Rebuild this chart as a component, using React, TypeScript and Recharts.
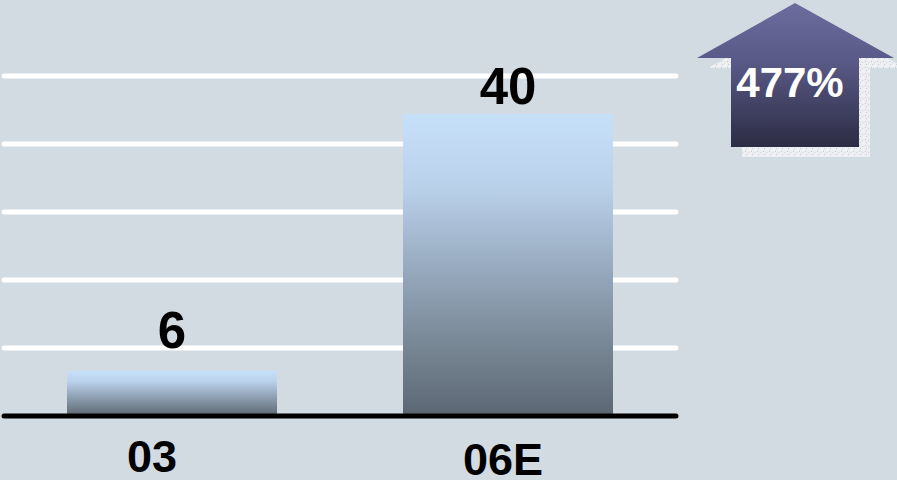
import React from 'react';
import { BarChart, Bar, XAxis, YAxis, CartesianGrid, LabelList } from 'recharts';

// Growth figures
const years = ['03', '06E'];
const values = [6, 40];
const growthLabel = '477%';
const yTicks = [9, 18, 27, 36, 45];

const data = years.map((year, i) => ({ year, value: values[i] }));

const FONT = '"Liberation Sans", Arial, sans-serif';
const BG = '#d3dbe2';

// the source slide nudges each text box a little differently
const valueLabelGap = [23, 10];
const tickShiftX = [-20, -5];
const tickBaseline = [56, 59];

const ValueLabel = (props: any) => {
  const { x, y, width, value, index } = props;
  return (
    <text
      x={x + width / 2}
      y={y - valueLabelGap[index]}
      textAnchor="middle"
      fontFamily={FONT}
      fontWeight="bold"
      fontSize={51}
      fill="#000"
    >
      {value}
    </text>
  );
};

const YearTick = (props: any) => {
  const { x, y, payload, index } = props;
  return (
    <text
      x={x + tickShiftX[index]}
      y={y + tickBaseline[index]}
      textAnchor="middle"
      fontFamily={FONT}
      fontWeight="bold"
      fontSize={45}
      fill="#000"
    >
      {payload.value}
    </text>
  );
};

export default function App() {
  return (
    <div
      style={{
        position: 'absolute',
        left: 0,
        top: 0,
        width: 897,
        height: 480,
        background: BG,
        overflow: 'hidden',
      }}
    >
      <svg width={0} height={0} style={{ position: 'absolute' }}>
        <defs>
          <linearGradient id="barFill" x1="0" y1="0" x2="0" y2="1">
            <stop offset="0%" stopColor="#c7e0f9" />
            <stop offset="25%" stopColor="#b9d0e9" />
            <stop offset="55%" stopColor="#92a4b8" />
            <stop offset="80%" stopColor="#74828f" />
            <stop offset="100%" stopColor="#5b6673" />
          </linearGradient>
          <linearGradient id="arrowFill" x1="0" y1="0" x2="0" y2="1">
            <stop offset="0%" stopColor="#6c6c9e" />
            <stop offset="40%" stopColor="#5a5a88" />
            <stop offset="100%" stopColor="#2c2c44" />
          </linearGradient>
          <pattern id="speckle" width="6" height="6" patternUnits="userSpaceOnUse">
            <rect width="6" height="6" fill="#eceef2" />
            <rect x="1" y="1" width="1" height="1" fill="#c4c9d0" />
            <rect x="4" y="2" width="1" height="1" fill="#d0d4da" />
            <rect x="2" y="4" width="1" height="1" fill="#c8ccd3" />
            <rect x="5" y="5" width="1" height="1" fill="#f8f9fa" />
          </pattern>
        </defs>
      </svg>

      <BarChart
        width={897}
        height={480}
        data={data}
        margin={{ top: 76, right: 221, bottom: 0, left: 4 }}
      >
        <CartesianGrid
          horizontal
          vertical={false}
          stroke="#ffffff"
          strokeWidth={5}
          strokeLinecap="round"
          horizontalValues={yTicks}
        />
        <YAxis hide type="number" domain={[0, 45]} ticks={yTicks} />
        <XAxis
          dataKey="year"
          height={64}
          tickLine={false}
          tickSize={0}
          tickMargin={0}
          axisLine={{ stroke: '#000', strokeWidth: 5, strokeLinecap: 'round' }}
          tick={<YearTick />}
          interval={0}
        />
        <Bar dataKey="value" barSize={210} fill="url(#barFill)" isAnimationActive={false}>
          <LabelList dataKey="value" content={<ValueLabel />} />
        </Bar>
      </BarChart>

      {/* growth arrow */}
      <svg
        width={897}
        height={480}
        style={{ position: 'absolute', left: 0, top: 0, pointerEvents: 'none' }}
      >
        <polygon
          points="806,13 708,68 742,68 742,157 870,157 870,68 905,68"
          fill="url(#speckle)"
        />
        <polygon
          points="795,3 697,58 731,58 731,147 859,147 859,58 894,58"
          fill="url(#arrowFill)"
        />
        <text
          x={790}
          y={97}
          textAnchor="middle"
          fontFamily={FONT}
          fontWeight="bold"
          fontSize={42}
          fill="#ffffff"
        >
          {growthLabel}
        </text>
      </svg>
    </div>
  );
}
